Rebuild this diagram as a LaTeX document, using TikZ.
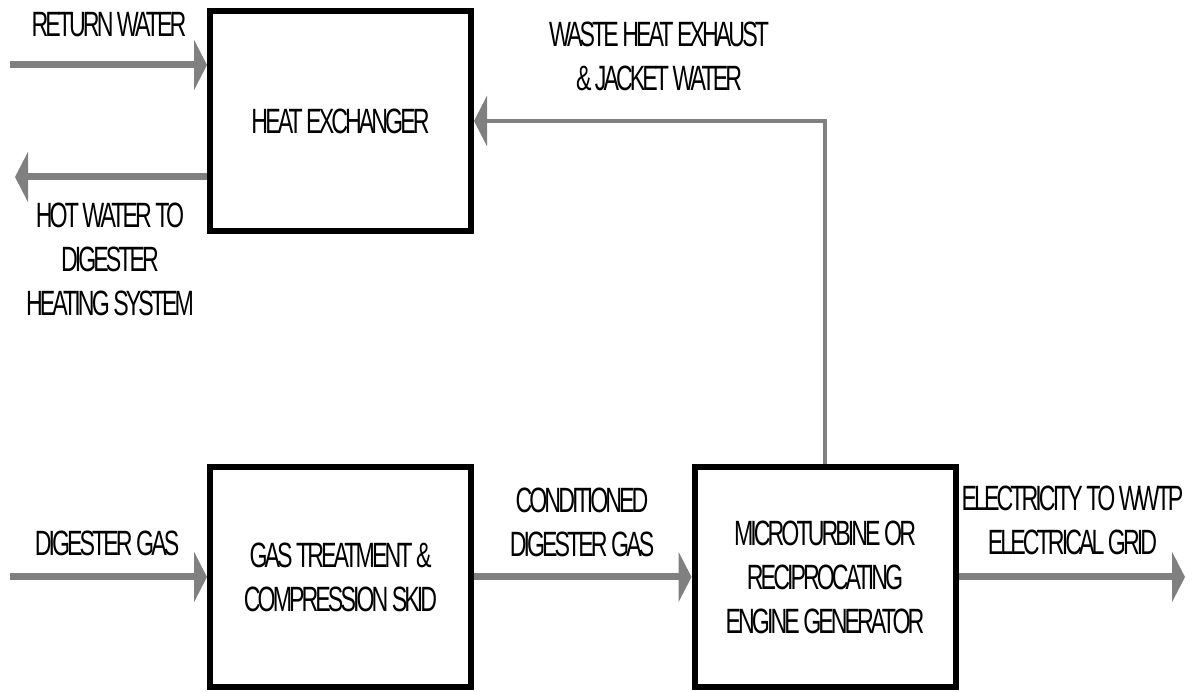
\documentclass[tikz,border=0pt]{standalone}
\usepackage{fontspec}
\setmainfont{Liberation Sans}[FakeStretch=0.66, LetterSpace=-8.4]
\usetikzlibrary{arrows.meta, positioning}
\definecolor{flowgrey}{HTML}{808080}

\begin{document}
\begin{tikzpicture}[font=\fontsize{20}{25}\selectfont]
\tikzstyle{unit} = [rectangle, draw=black, line width=0.12cm, minimum width=5.22cm, minimum height=4.4cm, text centered, align=center, inner sep=0pt]
\tikzstyle{flow} = [draw=flowgrey, line width=0.14cm, -{Triangle[length=0.26cm, width=1cm]}]
\tikzstyle{label} = [align=center, inner sep=0pt]

\path[use as bounding box] (0,0) rectangle (23.9,13.84);

% Process units
\node (hx) [unit] at (6.81,11.42) {HEAT EXCHANGER};
\node (skid) [unit] at (6.81,2.3) {GAS TREATMENT \&\\COMPRESSION SKID};
\node (gen) [unit] at (16.5,2.3) {MICROTURBINE OR\\RECIPROCATING\\ENGINE GENERATOR};

% Free ends of the streams
\coordinate (rwin) at (0.2,12.54);
\coordinate (hwout) at (0.3,10.3);
\coordinate (dgin) at (0.2,2.3);
\coordinate (elout) at (23.7,2.3);

% Streams
\draw[flow] (rwin) -- (rwin -| hx.west);
\draw[flow] (hx.west |- hwout) -- (hwout);
\draw[flow] (dgin) -- (skid.west);
\draw[flow] (skid.east) -- (gen.west);
\draw[flow] (gen.east) -- (elout);
\draw[flow, line width=0.09cm] (gen.north) |- (hx.east);

% Stream labels
\node (rwlbl) [label] at (2.18,13.34) {RETURN WATER};
\node (hwlbl) [label] at (2.2,8.66) {HOT WATER TO\\DIGESTER\\HEATING SYSTEM};
\node (wastelbl) [label] at (13.18,12.72) {WASTE HEAT EXHAUST\\\& JACKET WATER};
\node (dglbl) [label] at (2.14,2.98) {DIGESTER GAS};
\node (cdlbl) [label] at (11.64,3.4) {CONDITIONED\\DIGESTER GAS};
\node (ellbl) [label] at (21.45,3.44) {ELECTRICITY TO WWTP\\ELECTRICAL GRID};

\end{tikzpicture}
\end{document}
